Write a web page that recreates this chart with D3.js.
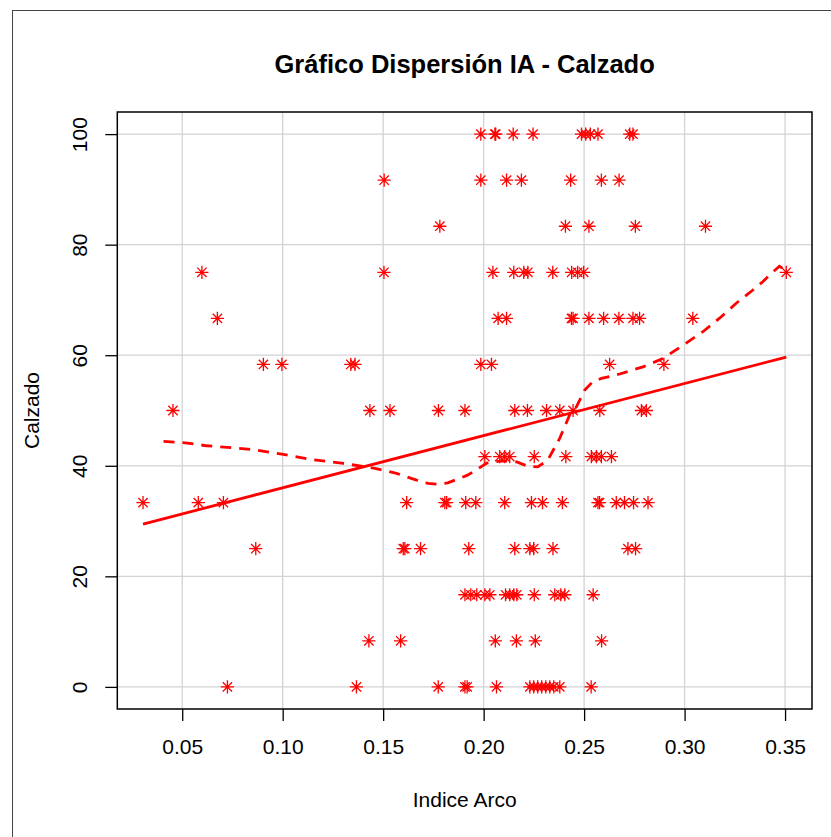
<!DOCTYPE html>
<html>
<head>
<meta charset="utf-8">
<script src="https://cdn.jsdelivr.net/npm/d3@7"></script>
<style>
  html, body { margin: 0; padding: 0; background: #fff; }
  svg { display: block; }
  text { font-family: "Liberation Sans", Arial, Helvetica, sans-serif; fill: #000; }
</style>
</head>
<body>
<svg id="chart" width="831" height="837"></svg>
<script>
// Calzado levels (y) and the Indice Arco values (x) observed at each level
const calzadoNiveles = [0, 8.333, 16.667, 25, 33.333, 41.667, 50, 58.333, 66.667, 75, 83.333, 91.667, 100];

const arco0   = [0.0725, 0.1367, 0.1774, 0.1907, 0.1918, 0.2064, 0.2230, 0.2249, 0.2269, 0.2289, 0.2309, 0.2329, 0.2349, 0.2379, 0.2535];
const arco8   = [0.1429, 0.1587, 0.2058, 0.2163, 0.2257, 0.2587];
const arco17  = [0.1907, 0.1936, 0.1966, 0.2006, 0.2031, 0.2109, 0.2130, 0.2150, 0.2165, 0.2252, 0.2354, 0.2384, 0.2404, 0.2545];
const arco25  = [0.0866, 0.1600, 0.1608, 0.1686, 0.1926, 0.2155, 0.2230, 0.2249, 0.2345, 0.2718, 0.2756];
const arco33  = [0.0305, 0.0580, 0.0705, 0.1617, 0.1807, 0.1816, 0.1911, 0.1961, 0.2105, 0.2238, 0.2293, 0.2392, 0.2569, 0.2577, 0.2660, 0.2701, 0.2746, 0.2818];
const arco42  = [0.2006, 0.2080, 0.2105, 0.2130, 0.2252, 0.2409, 0.2536, 0.2561, 0.2586, 0.2636];
const arco50  = [0.0454, 0.1434, 0.1534, 0.1775, 0.1907, 0.2155, 0.2218, 0.2313, 0.2379, 0.2445, 0.2578, 0.2785, 0.2810];
const arco58  = [0.0904, 0.0996, 0.1339, 0.1360, 0.1986, 0.2039, 0.2627, 0.2897];
const arco67  = [0.0675, 0.2072, 0.2114, 0.2437, 0.2445, 0.2524, 0.2597, 0.2673, 0.2743, 0.2776, 0.3041];
const arco75  = [0.0598, 0.1504, 0.2046, 0.2150, 0.2200, 0.2220, 0.2344, 0.2438, 0.2468, 0.2498, 0.3506];
const arco83  = [0.1782, 0.2407, 0.2524, 0.2755, 0.3104];
const arco92  = [0.1505, 0.1986, 0.2114, 0.2188, 0.2433, 0.2586, 0.2674];
const arco100 = [0.1986, 0.2056, 0.2060, 0.2147, 0.2246, 0.2487, 0.2508, 0.2531, 0.2569, 0.2727, 0.2743];

const arcoPorNivel = [arco0, arco8, arco17, arco25, arco33, arco42, arco50, arco58, arco67, arco75, arco83, arco92, arco100];

// Fitted straight line: [intercept, slope]
const rectaAjuste = [26.57, 94.4];

// Smoothed trend (dashed curve)
const suavizadoX = [0.0407, 0.0515, 0.0623, 0.0772, 0.0871, 0.1003, 0.1136, 0.1302, 0.1459, 0.1567, 0.1666, 0.1724, 0.1767, 0.1822, 0.1870, 0.1920, 0.1970, 0.2016, 0.2090, 0.2165, 0.2220, 0.2269, 0.2319, 0.2379, 0.2428, 0.2462, 0.2503, 0.2543, 0.2586, 0.2677, 0.2793, 0.2892, 0.3008, 0.3091, 0.3174, 0.3257, 0.3340, 0.3389, 0.3431, 0.3472, 0.3506];
const suavizadoY = [44.42, 44.16, 43.62, 43.20, 42.84, 42.06, 41.16, 40.43, 39.53, 38.62, 37.41, 36.80, 36.69, 36.90, 37.60, 38.30, 39.40, 40.50, 40.90, 40.70, 39.90, 39.80, 41.00, 45.00, 49.20, 50.70, 53.70, 55.20, 55.80, 56.60, 57.90, 59.40, 62.20, 64.25, 66.70, 69.40, 71.80, 73.30, 74.80, 76.10, 75.30];

// Axis ticks
const xTicks = [0.05, 0.10, 0.15, 0.20, 0.25, 0.30, 0.35];
const yTicks = [0, 20, 40, 60, 80, 100];

const puntos = [];
arcoPorNivel.forEach((xs, i) => xs.forEach(x => puntos.push({ x: x, y: calzadoNiveles[i] })));

const svg = d3.select("#chart");
const box = { left: 117.3, right: 812, top: 112, bottom: 709 };
const rojo = "#FF0000";

// Outer figure frame
svg.append("rect")
  .attr("x", 12.5).attr("y", 10.5)
  .attr("width", 900).attr("height", 900)
  .attr("fill", "none").attr("stroke", "#444").attr("stroke-width", 1);

// Scales with 4% padding beyond the data range
const [x0, x1] = d3.extent(puntos, d => d.x);
const padX = (x1 - x0) * 0.04;
const x = d3.scaleLinear().domain([x0 - padX, x1 + padX]).range([box.left, box.right]);
const padY = (100 - 0) * 0.04;
const y = d3.scaleLinear().domain([0 - padY, 100 + padY]).range([box.bottom, box.top]);

// Grid
const grid = svg.append("g").attr("stroke", "#D3D3D3").attr("stroke-width", 1.3);
grid.selectAll(".gx").data(xTicks).join("line")
  .attr("x1", d => x(d)).attr("x2", d => x(d))
  .attr("y1", box.top).attr("y2", box.bottom);
grid.selectAll(".gy").data(yTicks).join("line")
  .attr("x1", box.left).attr("x2", box.right)
  .attr("y1", d => y(d)).attr("y2", d => y(d));

// Axes
const fontSize = 21;
const xAxis = d3.axisBottom(x).tickValues(xTicks).tickFormat(d3.format(".2f")).tickSize(12).tickSizeOuter(0);
const gx = svg.append("g").attr("transform", `translate(0,${box.bottom})`).call(xAxis);
gx.select(".domain").remove();
gx.selectAll(".tick line").attr("stroke", "#000").attr("stroke-width", 1.3);
gx.selectAll(".tick text").attr("font-size", fontSize).attr("font-family", null)
  .attr("y", 45).attr("dy", null);

const yAxis = d3.axisLeft(y).tickValues(yTicks).tickFormat(d3.format("d")).tickSize(12).tickSizeOuter(0);
const gy = svg.append("g").attr("transform", `translate(${box.left},0)`).call(yAxis);
gy.select(".domain").remove();
gy.selectAll(".tick line").attr("stroke", "#000").attr("stroke-width", 1.3);
gy.selectAll(".tick text")
  .attr("font-size", fontSize).attr("font-family", null)
  .attr("x", null).attr("dy", null)
  .attr("text-anchor", "middle")
  .attr("transform", "translate(-30,0) rotate(-90)");

// Plot box
svg.append("rect")
  .attr("x", box.left).attr("y", box.top)
  .attr("width", box.right - box.left).attr("height", box.bottom - box.top)
  .attr("fill", "none").attr("stroke", "#000").attr("stroke-width", 1.5);

// Points drawn as asterisks (plus + cross)
const arm = 6.6, diag = arm / Math.SQRT2;
const star = `M${-arm},0L${arm},0M0,${-arm}L0,${arm}M${-diag},${-diag}L${diag},${diag}M${-diag},${diag}L${diag},${-diag}`;
svg.append("g").selectAll("path").data(puntos).join("path")
  .attr("d", star)
  .attr("transform", d => `translate(${x(d.x)},${y(d.y)})`)
  .attr("fill", "none").attr("stroke", rojo).attr("stroke-width", 1.3);

// Fitted straight line across the data range
const [intercepto, pendiente] = rectaAjuste;
svg.append("line")
  .attr("x1", x(x0)).attr("y1", y(intercepto + pendiente * x0))
  .attr("x2", x(x1)).attr("y2", y(intercepto + pendiente * x1))
  .attr("stroke", rojo).attr("stroke-width", 2.8);

// Smoothed trend, dashed
const suavizado = suavizadoX.map((v, i) => [v, suavizadoY[i]]);
svg.append("path")
  .datum(suavizado)
  .attr("d", d3.line().x(d => x(d[0])).y(d => y(d[1])))
  .attr("fill", "none").attr("stroke", rojo).attr("stroke-width", 2.8)
  .attr("stroke-dasharray", "11,8");

// Titles
svg.append("text")
  .attr("x", (box.left + box.right) / 2).attr("y", 73)
  .attr("text-anchor", "middle").attr("font-size", 25.5).attr("font-weight", "bold")
  .text("Gráfico Dispersión IA - Calzado");

svg.append("text")
  .attr("x", (box.left + box.right) / 2).attr("y", 807)
  .attr("text-anchor", "middle").attr("font-size", fontSize)
  .text("Indice Arco");

svg.append("text")
  .attr("transform", `translate(39,${(box.top + box.bottom) / 2}) rotate(-90)`)
  .attr("text-anchor", "middle").attr("font-size", fontSize)
  .text("Calzado");
</script>
</body>
</html>
